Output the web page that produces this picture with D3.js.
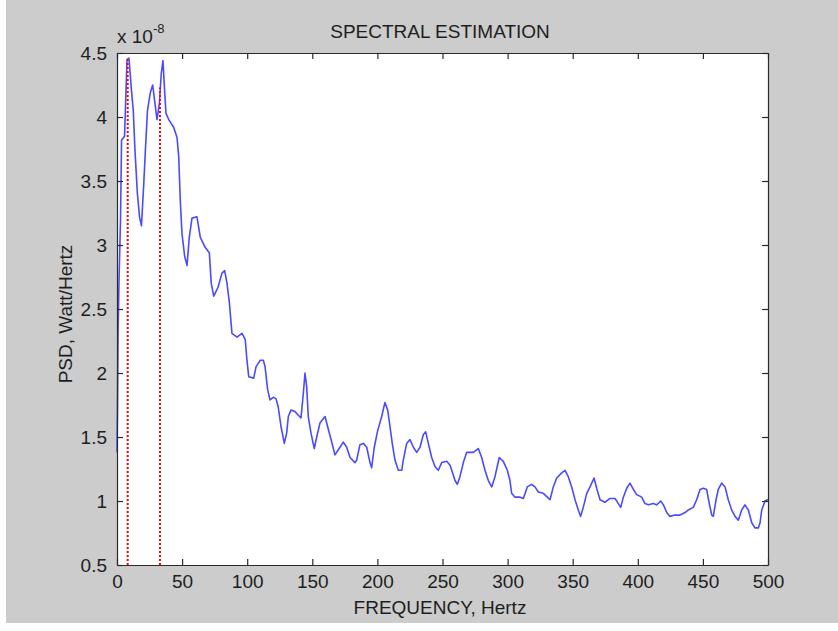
<!DOCTYPE html>
<html>
<head>
<meta charset="utf-8">
<script src="https://cdn.jsdelivr.net/npm/d3@7"></script>
<style>
  body { margin: 0; background: #ffffff; }
  text { font-family: "Liberation Sans", Arial, sans-serif; fill: #1e1e1e; }
</style>
</head>
<body>
<script>

// frequency (Hz) of each traced point
const freq = [0, 0.4, 0.8, 1.5, 2.7, 3.5, 5.8, 6.9, 7.7, 9.2, 11.1, 12.5, 13.8, 15.6, 17.3, 18.8,
    20.4, 21.9, 23.4, 25.6, 27.4, 29.0, 30.7, 32.5, 34.0, 35.3, 36.6, 37.6, 39.7, 43.5, 46.1, 47.4,
    48.6, 49.9, 52.0, 53.8, 55.5, 57.6, 61.4, 64.0, 67.8, 70.9, 72.4, 74.3, 77.6, 80.6, 82.7, 84.5,
    86.3, 88.3, 92.2, 96.0, 98.5, 99.8, 101.2, 105.0, 106.8, 110.1, 112.4, 113.7, 115.7, 117.5, 120.0,
    122.1, 123.9, 126.0, 128.5, 130.3, 131.6, 133.6, 136.7, 139.2, 141.3, 143.1, 144.4, 145.7, 146.9,
    149.0, 151.5, 153.4, 155.9, 159.8, 161.8, 164.4, 167.4, 170.0, 173.8, 176.4, 179.0, 182.8, 184.1,
    186.6, 189.2, 191.8, 194.3, 195.6, 197.6, 200.2, 203.3, 205.8, 207.9, 209.7, 211.4, 213.5, 216.1,
    218.7, 219.9, 222.5, 225.0, 227.6, 230.2, 232.7, 235.3, 237.1, 239.1, 241.7, 244.2, 246.8, 249.4,
    253.2, 255.8, 257.1, 259.6, 261.4, 263.4, 266.0, 268.6, 271.1, 273.7, 277.5, 280.1, 282.6, 285.2,
    287.8, 290.3, 293.6, 296.7, 299.8, 301.8, 303.1, 305.7, 309.5, 312.1, 315.1, 318.5, 321.0, 323.6,
    327.4, 330.5, 332.6, 335.1, 337.7, 341.6, 344.1, 346.6, 349.2, 351.8, 354.3, 356.1, 358.1, 360.8,
    363.3, 366.4, 368.4, 371.0, 374.8, 378.6, 382.5, 385.0, 386.9, 388.9, 391.5, 394.0, 396.6, 399.2,
    403.0, 405.5, 408.1, 411.9, 414.5, 417.6, 419.7, 422.2, 424.7, 428.6, 432.4, 436.3, 438.8, 442.6,
    445.2, 447.8, 450.3, 452.9, 454.9, 456.8, 458.0, 460.1, 461.8, 464.4, 467.0, 469.5, 472.1, 474.7,
    477.2, 479.8, 482.3, 484.9, 487.5, 490.0, 492.6, 493.9, 495.2, 497.7, 499.5, 500];

// PSD values, in units of 1e-8 Watt/Hertz
const psd = [1.38, 1.75, 2.3, 2.7, 3.2, 3.82, 3.85, 4.2, 4.45, 4.46, 4.21, 4.05, 3.74, 3.41, 3.22, 3.15,
    3.45, 3.76, 4.05, 4.19, 4.25, 4.12, 3.98, 4.1, 4.34, 4.44, 4.2, 4.03, 3.98, 3.92, 3.84, 3.69,
    3.35, 3.09, 2.91, 2.84, 3.06, 3.21, 3.22, 3.06, 2.98, 2.94, 2.7, 2.6, 2.67, 2.78, 2.8, 2.7,
    2.55, 2.31, 2.28, 2.31, 2.26, 2.1, 1.97, 1.96, 2.05, 2.1, 2.1, 2.05, 1.87, 1.79, 1.81,
    1.8, 1.73, 1.58, 1.45, 1.53, 1.66, 1.71, 1.7, 1.67, 1.65, 1.84, 2.0, 1.89, 1.66,
    1.53, 1.41, 1.5, 1.61, 1.66, 1.58, 1.48, 1.36, 1.4, 1.46, 1.42, 1.34, 1.3, 1.32,
    1.44, 1.45, 1.42, 1.3, 1.26, 1.42, 1.55, 1.66, 1.77, 1.71, 1.58, 1.45, 1.32, 1.24,
    1.24, 1.32, 1.45, 1.48, 1.42, 1.38, 1.42, 1.52, 1.54, 1.45, 1.34, 1.27, 1.24, 1.3,
    1.31, 1.28, 1.24, 1.16, 1.13, 1.19, 1.3, 1.38, 1.38, 1.38, 1.41, 1.34, 1.24, 1.16,
    1.11, 1.19, 1.34, 1.31, 1.24, 1.16, 1.06, 1.03, 1.03, 1.02, 1.11, 1.13, 1.11, 1.07,
    1.06, 1.03, 1.01, 1.11, 1.18, 1.22, 1.24, 1.19, 1.11, 1.01, 0.93, 0.88, 0.95, 1.06,
    1.11, 1.18, 1.1, 1.01, 0.99, 1.02, 1.02, 0.98, 0.95, 1.03, 1.1, 1.14, 1.09, 1.05,
    1.03, 0.98, 0.97, 0.98, 0.97, 1.0, 0.97, 0.91, 0.88, 0.89, 0.89, 0.91, 0.93, 0.95,
    1.01, 1.09, 1.1, 1.09, 0.98, 0.89, 0.88, 1.01, 1.09, 1.14, 1.11, 1.01, 0.93, 0.88,
    0.85, 0.93, 0.97, 0.93, 0.83, 0.79, 0.79, 0.83, 0.93, 1.0, 1.01, 1.01];

// the two dotted red markers
const markFreq = [8.2, 33];
const markPsd = [4.45, 4.23];

const xTicks = [0, 50, 100, 150, 200, 250, 300, 350, 400, 450, 500];
const yTicks = [0.5, 1, 1.5, 2, 2.5, 3, 3.5, 4, 4.5];

const w = 838;
const h = 631;
const margin = ({top: 53, right: 70, bottom: 66, left: 117});
const fs = 19;

const svg = d3.select("body")
    .append("svg")
    .attr("width", w)
    .attr("height", h);

// figure background
svg.append("rect")
    .attr("x", 6)
    .attr("y", 0)
    .attr("width", w - 6)
    .attr("height", 623)
    .attr("fill", "#cccccc");

let x = d3.scaleLinear()
    .domain([0, 500])
    .range([margin.left, w - margin.right]);

let y = d3.scaleLinear()
    .domain([0.5, 4.5])
    .range([h - margin.bottom, margin.top]);

// axes area
svg.append("rect")
    .attr("x", x(0))
    .attr("y", y(4.5))
    .attr("width", x(500) - x(0))
    .attr("height", y(0.5) - y(4.5))
    .attr("fill", "white");

let data = freq.map((f, i) => ({f: f, v: psd[i]}));

let line = d3.line()
    .x(d => x(d.f))
    .y(d => y(d.v));

svg.append("path")
    .datum(data)
    .attr("d", line)
    .attr("fill", "none")
    .attr("stroke", "#4a4aff")
    .attr("stroke-width", 1.6)
    .attr("stroke-linejoin", "round");

svg.selectAll("line.mark")
    .data(markFreq)
    .enter().append("line")
    .attr("class", "mark")
    .attr("x1", d => x(d))
    .attr("x2", d => x(d))
    .attr("y1", y(0.5))
    .attr("y2", (d, i) => y(markPsd[i]))
    .attr("stroke", "#ff0000")
    .attr("stroke-width", 2)
    .attr("stroke-dasharray", "2,2");

// box axes with inward ticks, MATLAB style
let xAxis = d3.axisBottom(x).tickValues(xTicks).tickSizeInner(-6).tickSizeOuter(0).tickPadding(10);
let yAxis = d3.axisLeft(y).tickValues(yTicks).tickSizeInner(-6).tickSizeOuter(0).tickPadding(10)
    .tickFormat(d3.format("~g"));
let xTop = d3.axisTop(x).tickValues(xTicks).tickSizeInner(-6).tickSizeOuter(0).tickFormat("");
let yRight = d3.axisRight(y).tickValues(yTicks).tickSizeInner(-6).tickSizeOuter(0).tickFormat("");

function style(g) {
    g.selectAll("path").attr("stroke", "#2a2a2a").attr("stroke-width", 1.2);
    g.selectAll("line").attr("stroke", "#2a2a2a").attr("stroke-width", 1.2);
    g.selectAll("text")
        .attr("font-family", "Liberation Sans, Arial, sans-serif")
        .attr("font-size", fs)
        .attr("fill", "#1e1e1e");
}

svg.append("g")
    .attr("transform", `translate(0,${y(0.5)})`)
    .call(xAxis)
    .call(style);

svg.append("g")
    .attr("transform", `translate(${x(0)},0)`)
    .call(yAxis)
    .call(style);

svg.append("g")
    .attr("transform", `translate(0,${y(4.5)})`)
    .call(xTop)
    .call(style);

svg.append("g")
    .attr("transform", `translate(${x(500)},0)`)
    .call(yRight)
    .call(style);

// exponent
let expo = svg.append("text")
    .attr("x", 117)
    .attr("y", 43)
    .attr("font-size", fs);
expo.append("tspan").text("x 10");
expo.append("tspan")
    .attr("dy", -10)
    .attr("font-size", 13)
    .text("-8");

svg.append("text")
    .attr("x", 440)
    .attr("y", 38)
    .attr("text-anchor", "middle")
    .attr("font-size", fs)
    .text("SPECTRAL ESTIMATION");

svg.append("text")
    .attr("x", 440)
    .attr("y", 614)
    .attr("text-anchor", "middle")
    .attr("font-size", fs)
    .text("FREQUENCY, Hertz");

svg.append("text")
    .attr("transform", "translate(72,314) rotate(-90)")
    .attr("text-anchor", "middle")
    .attr("font-size", fs)
    .text("PSD, Watt/Hertz");

</script>
</body>
</html>
